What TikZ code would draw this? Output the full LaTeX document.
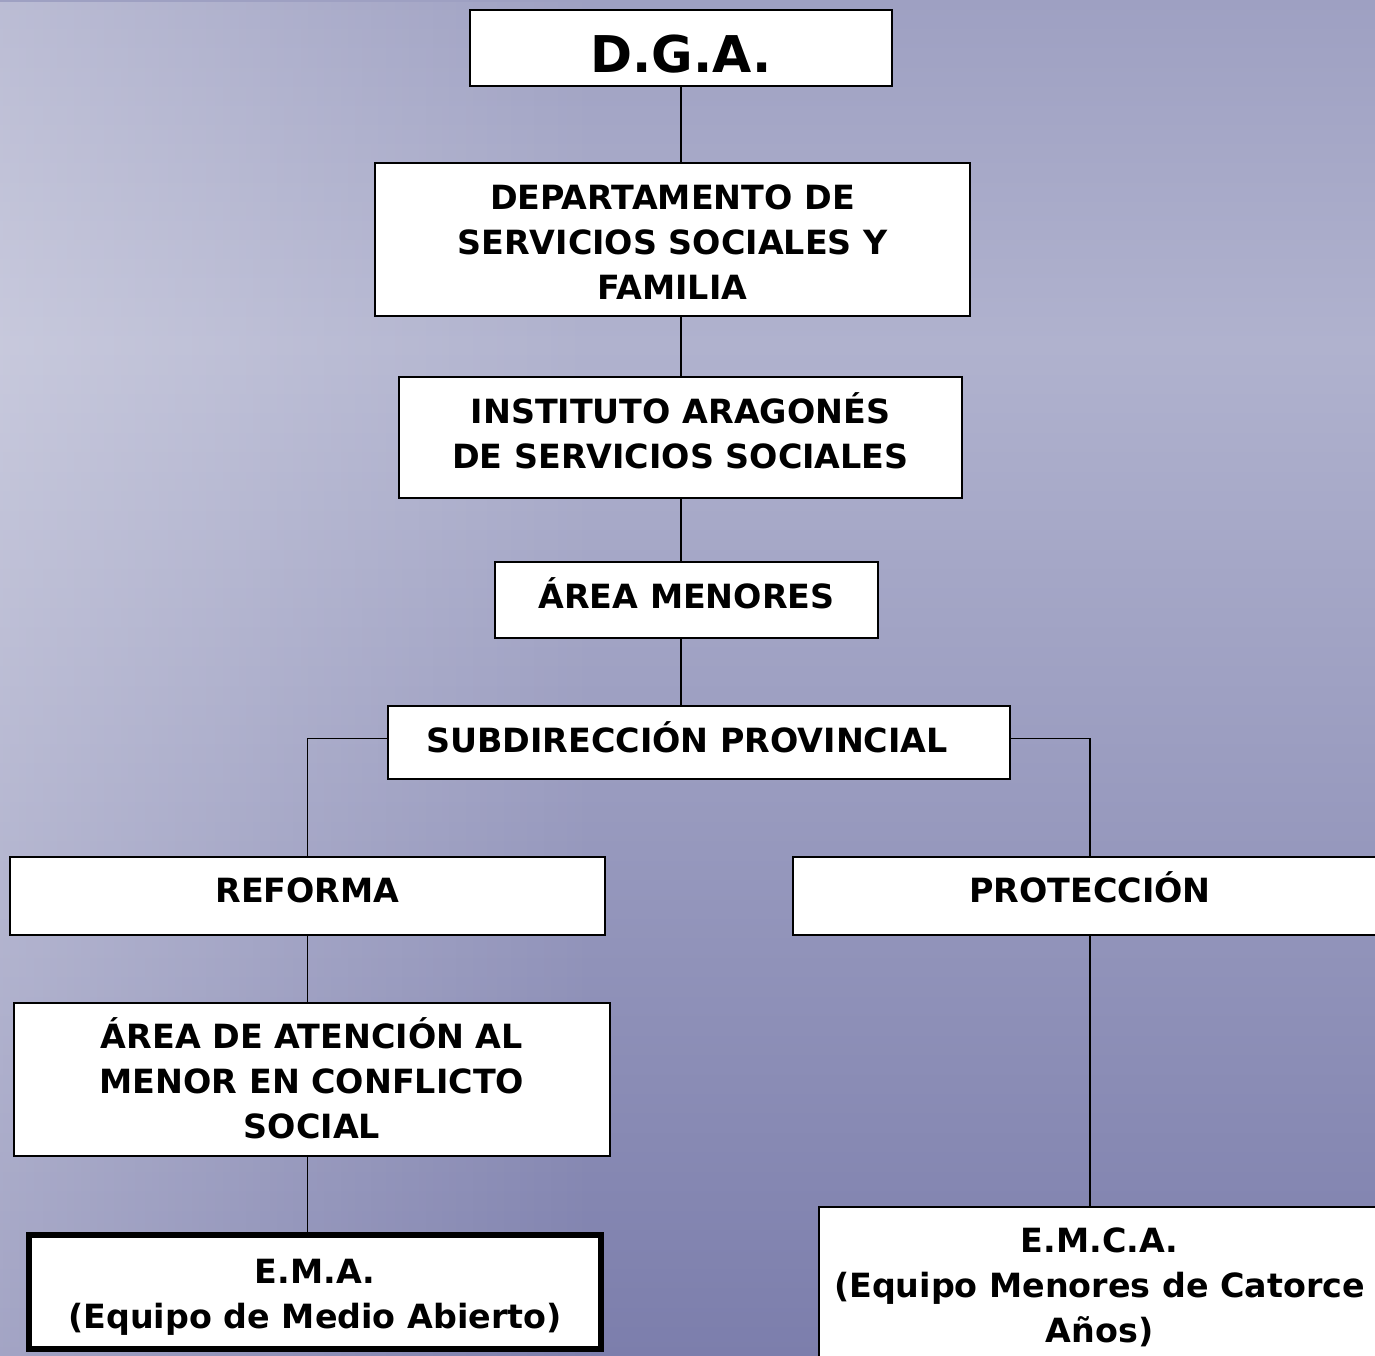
\documentclass[tikz,border=0pt]{standalone}
\usepackage{fontspec}
\setmainfont{DejaVu Sans}
\usetikzlibrary{fadings}
\definecolor{bgtop}{RGB}{158,160,194}
\definecolor{bghor}{RGB}{176,178,206}
\definecolor{bgbot}{RGB}{124,126,172}
\tikzset{
  box/.style={draw=black, line width=1.5pt, fill=white, align=center, inner sep=0pt,
    font=\bfseries\fontsize{25}{33.75}\selectfont},
  conn/.style={draw=black, line width=0.9pt},
}
\begin{document}
\begin{tikzpicture}[x=0.75pt,y=-0.75pt]
\useasboundingbox (0,0) rectangle (1375,1356);
\clip (0,0) rectangle (1375,1356);
% background
\shade[top color=bgtop, bottom color=bghor] (0,0) rectangle (1375,345);
\shade[top color=bghor, bottom color=bgbot] (0,345) rectangle (1375,1356);
\fill[white, path fading=east, fill opacity=0.3] (0,0) rectangle (600,1356);
% boxes
\node[box, minimum width=316.5pt, minimum height=57pt, text height=36pt, text depth=0pt,
  font=\bfseries\fontsize{38}{40}\selectfont] (dga) at (681,48) {D.G.A.};
\node[box, minimum width=446.25pt, minimum height=114.75pt, text height=89.25pt, text depth=0pt]
  (dept) at (672.5,239.5) {DEPARTAMENTO DE\\SERVICIOS SOCIALES Y\\FAMILIA};
\node[box, minimum width=422.25pt, minimum height=90.75pt, text height=45.75pt, text depth=0pt]
  (inst) at (680.5,437.5) {INSTITUTO ARAGONÉS\\DE SERVICIOS SOCIALES};
\node[box, minimum width=287.25pt, minimum height=57pt, text height=12pt, text depth=0pt]
  (area) at (686.5,600) {ÁREA MENORES};
\node[box, minimum width=466.5pt, minimum height=54.75pt, text height=14.25pt, text depth=0pt]
  (subd) at (699,742.5) {SUBDIRECCIÓN PROVINCIAL\hspace{18pt}};
\node[box, minimum width=446.25pt, minimum height=58.5pt, text height=9pt, text depth=0pt]
  (ref) at (307.5,896) {REFORMA};
\node[box, minimum width=445.5pt, minimum height=58.5pt, text height=9pt, text depth=0pt]
  (prot) at (1090,896) {PROTECCIÓN};
\node[box, minimum width=447pt, minimum height=114.75pt, text height=87.75pt, text depth=0pt]
  (aten) at (312,1079.5) {ÁREA DE ATENCIÓN AL\\MENOR EN CONFLICTO\\SOCIAL};
\node[box, line width=4.5pt, minimum width=429pt, minimum height=85.5pt, text height=54pt, text depth=0pt]
  (ema) at (315,1292) {E.M.A.\\(Equipo de Medio Abierto)};
\node[box, minimum width=420.75pt, minimum height=122.25pt, text height=80.25pt, text depth=0pt]
  (emca) at (1099.5,1288.5) {E.M.C.A.\\(Equipo Menores de Catorce\\Años)};
% connectors
\draw[conn] (dga.south) -- (dga.south |- dept.north);
\draw[conn] (dept.south -| dga.south) -- (inst.north -| dga.south);
\draw[conn] (inst.south -| dga.south) -- (area.north -| dga.south);
\draw[conn] (area.south -| dga.south) -- (subd.north -| dga.south);
\draw[conn] ([yshift=3pt]subd.west) -| (ref.north);
\draw[conn] ([yshift=3pt]subd.east) -| (prot.north);
\draw[conn] (ref.south) -- (ref.south |- aten.north);
\draw[conn] (ref.south |- aten.south) -- (ref.south |- ema.north);
\draw[conn] (prot.south) -- (prot.south |- emca.north);
\end{tikzpicture}
\end{document}
